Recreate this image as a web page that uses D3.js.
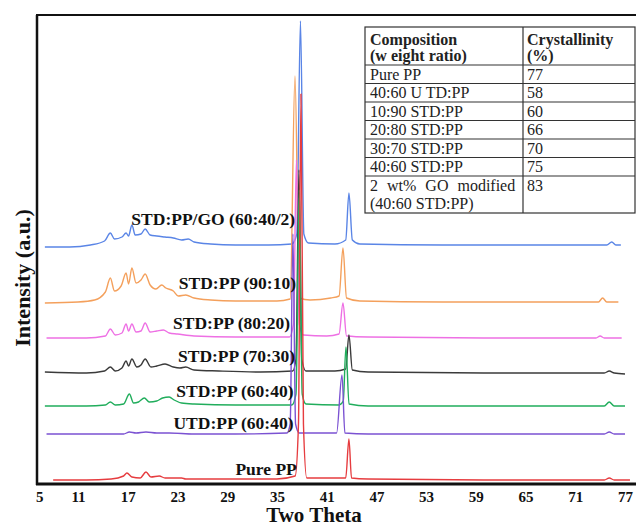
<!DOCTYPE html>
<html>
<head>
<meta charset="utf-8">
<script src="https://cdn.jsdelivr.net/npm/d3@7"></script>
<style>
  body { margin: 0; background: #fff; }
  svg { display: block; font-family: "Liberation Serif", "Times New Roman", serif; }
</style>
</head>
<body>
<div id="chart"></div>
<script>
// Data: [two theta, stacked intensity (a.u.)]
const stdGO6040 = [[7.0,237],[10,237],[12.5,239],[14.2,243],[14.9,251],[15.4,245],[16.3,247],[16.8,251],[17.1,248],[17.5,259],[17.9,249],[18.6,250],[19.1,255],[19.7,249],[20.5,248],[21.5,247],[22.5,246],[23.5,244],[24.3,245],[25,242],[27,240],[30,239],[34,239],[36.8,240],[37.4,250],[37.84,463],[38.25,250],[38.8,241],[42,240],[43.3,244],[43.69,291],[44.1,244],[45,240],[55,239],[65,239],[74.8,239],[75.4,242],[75.9,239],[76.5,239]];
const std9010 = [[7.0,181],[11,182],[13,184],[14.3,192],[14.9,206],[15.4,193],[16.2,198],[16.8,211],[17.1,200],[17.5,216],[18,201],[18.6,204],[19.1,210],[19.7,199],[20.4,195],[21.1,199],[21.6,196],[22.5,193],[23.1,188],[24,189],[25,186],[27,184],[30,183],[35,183],[36.6,185],[37.18,408],[37.7,186],[39,184],[41.5,186],[42.5,188],[42.97,236],[43.4,186],[45,183],[55,182],[65,182],[73.8,182],[74.3,186],[74.8,182],[76.2,182]];
const std8020 = [[7.2,146],[12,146],[14.3,148],[14.9,155],[15.5,149],[16.3,151],[16.8,160],[17.1,153],[17.5,160],[18,152],[18.6,153],[19.1,161],[19.7,152],[20.5,153],[21.3,154],[22,151],[23,150],[25,148],[30,147],[36.5,147],[37.0,160],[37.35,324],[37.7,160],[38.2,149],[41,148],[42.5,150],[42.97,181],[43.4,148],[46,147],[60,146],[73.5,146],[74,148],[74.5,146],[76.6,146]];
const std7030 = [[7.0,112],[12,111],[14.2,113],[14.9,117],[15.5,113],[16.3,116],[16.8,123],[17.1,118],[17.5,125],[18.1,117],[18.6,119],[19.1,125],[19.8,117],[20.5,118],[21.5,120],[22.5,117],[23.3,116],[24,117],[25,114],[28,113],[33,112],[36.9,113],[37.3,125],[37.66,314],[38.0,125],[38.5,113],[42,113],[43.3,115],[43.69,149],[44.1,114],[46,112],[60,111],[74.5,111],[75.1,113],[75.7,111],[77,110]];
const std6040 = [[7.0,78],[12,78],[14.3,79],[14.9,82],[15.5,79],[16.5,80],[17.2,90],[17.7,81],[18.3,82],[19.0,86],[19.6,82],[20.5,83],[21.2,86],[22,87],[22.6,84],[23.5,81],[25,80],[30,79],[36.8,79],[37.3,90],[37.7,294],[38.05,90],[38.5,80],[42.5,79],[43.0,83],[43.33,137],[43.7,80],[46,78],[60,78],[74.5,78],[75.1,82],[75.7,78],[77,78]];
const utd6040 = [[7.2,50],[12,50],[16.5,50],[17.2,52],[18,51],[19.2,52],[20.5,51],[22,51],[25,50],[30,50],[36.2,51],[36.6,60],[36.93,250],[37.25,60],[37.7,51],[42.2,51],[42.85,109],[43.2,51],[46,50],[60,50],[74.5,50],[75.1,52],[75.7,50],[77,50]];
const purePP = [[8,4],[12,4],[15,5],[16.5,8],[16.9,11],[17.5,7],[18.5,6],[19.2,12],[19.8,7],[20.8,8],[21.5,6],[23.5,6],[24,5],[27,5],[35,5],[37.2,8],[37.6,60],[37.9,390],[38.2,60],[38.6,6],[43.3,6],[43.69,45],[44.0,6],[46,5],[60,4],[74.5,4],[75.1,6],[75.7,4],[77.6,4]];

const seriesNames = ["STD:PP/GO (60:40/2)", "STD:PP (90:10)", "STD:PP (80:20)", "STD:PP (70:30)", "STD:PP (60:40)", "UTD:PP (60:40)", "Pure PP"];
const seriesData = [stdGO6040, std9010, std8020, std7030, std6040, utd6040, purePP];
const seriesColors = ["#5a85e6", "#f4a05c", "#ee70e4", "#3b3b3b", "#21ad5c", "#7b52d2", "#e63c3f"];
// where each label sits: [two theta of right end, intensity of baseline]
const labelAt = [[37.2, 259], [37.3, 195], [36.6, 155], [37.2, 122], [37.0, 87], [37.0, 55], [37.4, 9]];

const xTicks = [5, 11, 17, 23, 29, 35, 41, 47, 53, 59, 65, 71, 77];

const compositions = ["Pure PP", "40:60 U TD:PP", "10:90 STD:PP", "20:80 STD:PP", "30:70 STD:PP", "40:60 STD:PP", "2 wt% GO modified|(40:60 STD:PP)"];
const crystallinity = ["77", "58", "60", "66", "70", "75", "83"];

const svgWidth = 636;
const svgHeight = 526;
const frame = { left: 37, top: 15, bottom: 484 };

const svg = d3.select("#chart").append("svg")
  .attr("width", svgWidth)
  .attr("height", svgHeight);

const x = d3.scaleLinear().domain([5, 77]).range([28.3, 625]);
const y = d3.scaleLinear().domain([0, 470]).range([484, 14]);

const line = d3.line()
  .x(d => x(d[0]))
  .y(d => y(d[1]))
  .curve(d3.curveMonotoneX);

// curves
svg.append("g").selectAll("path")
  .data(seriesData)
  .join("path")
  .attr("d", d => line(d))
  .attr("fill", "none")
  .attr("stroke", (d, i) => seriesColors[i])
  .attr("stroke-width", 1.4)
  .attr("stroke-linejoin", "round");

// curve labels
svg.append("g").selectAll("text")
  .data(seriesNames)
  .join("text")
  .attr("x", (d, i) => x(labelAt[i][0]))
  .attr("y", (d, i) => y(labelAt[i][1]))
  .attr("text-anchor", "end")
  .attr("font-size", 17.5)
  .attr("font-weight", "bold")
  .attr("fill", "#111")
  .text(d => d);

// frame
svg.append("line")
  .attr("x1", frame.left).attr("x2", frame.left)
  .attr("y1", frame.top).attr("y2", frame.bottom + 1)
  .attr("stroke", "#111").attr("stroke-width", 2.5);
svg.append("line")
  .attr("x1", frame.left - 1).attr("x2", svgWidth)
  .attr("y1", frame.top).attr("y2", frame.top)
  .attr("stroke", "#111").attr("stroke-width", 2);
svg.append("line")
  .attr("x1", frame.left - 1).attr("x2", svgWidth)
  .attr("y1", frame.bottom).attr("y2", frame.bottom)
  .attr("stroke", "#111").attr("stroke-width", 3);

// x axis labels
const xAxis = svg.append("g")
  .attr("transform", `translate(0, ${frame.bottom})`)
  .call(d3.axisBottom(x).tickValues(xTicks).tickSize(0).tickPadding(7));
xAxis.select(".domain").remove();
xAxis.selectAll("text")
  .attr("font-family", "Liberation Serif, serif")
  .attr("font-size", 15)
  .attr("font-weight", "bold")
  .attr("fill", "#111");
// first label sits against the frame in the original
xAxis.select(".tick text").attr("dx", 11);

svg.append("text")
  .attr("x", 314)
  .attr("y", 522)
  .attr("text-anchor", "middle")
  .attr("font-size", 21)
  .attr("font-weight", "bold")
  .attr("fill", "#111")
  .text("Two Theta");

svg.append("text")
  .attr("transform", "translate(30, 278) rotate(-90)")
  .attr("text-anchor", "middle")
  .attr("font-size", 22)
  .attr("font-weight", "bold")
  .attr("fill", "#111")
  .text("Intensity (a.u.)");

// crystallinity table
const tbl = { left: 365, right: 635, mid: 523, top: 27, head: 65, row: 18.5 };
const tableGroup = svg.append("g");
const rowTops = compositions.map((c, i) => tbl.head + i * tbl.row);
const tblBottom = tbl.head + (compositions.length + 1) * tbl.row;

tableGroup.append("rect")
  .attr("x", tbl.left).attr("y", tbl.top)
  .attr("width", tbl.right - tbl.left).attr("height", tblBottom - tbl.top)
  .attr("fill", "#fff").attr("stroke", "#333").attr("stroke-width", 1.2);
tableGroup.append("line")
  .attr("x1", tbl.mid).attr("x2", tbl.mid)
  .attr("y1", tbl.top).attr("y2", tblBottom)
  .attr("stroke", "#333").attr("stroke-width", 1.2);
tableGroup.selectAll("line.row")
  .data(rowTops)
  .join("line")
  .attr("class", "row")
  .attr("x1", tbl.left).attr("x2", tbl.right)
  .attr("y1", d => d).attr("y2", d => d)
  .attr("stroke", "#333").attr("stroke-width", 1.2);

const headText = tableGroup.append("g")
  .attr("font-size", 16)
  .attr("font-weight", "bold")
  .attr("fill", "#222");
headText.append("text").attr("x", tbl.left + 5).attr("y", 45).text("Composition");
headText.append("text").attr("x", tbl.left + 5).attr("y", 61).text("(w eight ratio)");
headText.append("text").attr("x", tbl.mid + 4).attr("y", 45).text("Crystallinity");
headText.append("text").attr("x", tbl.mid + 4).attr("y", 61).text("(%)");

tableGroup.selectAll("text.comp")
  .data(compositions)
  .join("text")
  .attr("class", "comp")
  .attr("x", tbl.left + 5)
  .attr("y", (d, i) => rowTops[i] + 14.5)
  .attr("font-size", 16)
  .attr("fill", "#222")
  .selectAll("tspan")
  .data(d => d.split("|"))
  .join("tspan")
  .attr("x", tbl.left + 5)
  .attr("dy", (d, j) => j === 0 ? 0 : tbl.row)
  .attr("word-spacing", (d, j, nodes) => nodes.length > 1 && j === 0 ? 5 : 0)
  .text(d => d);

tableGroup.selectAll("text.val")
  .data(crystallinity)
  .join("text")
  .attr("class", "val")
  .attr("x", tbl.mid + 4)
  .attr("y", (d, i) => rowTops[i] + 14.5)
  .attr("font-size", 16)
  .attr("fill", "#222")
  .text(d => d);
</script>
</body>
</html>
